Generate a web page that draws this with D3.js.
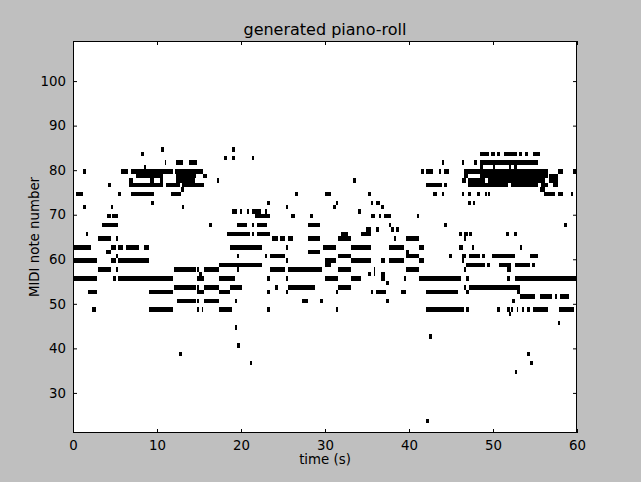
<!DOCTYPE html>
<html><head><meta charset="utf-8">
<script src="https://cdn.jsdelivr.net/npm/d3@7"></script>
<style>html,body{margin:0;padding:0;background:#bfbfbf;}svg{display:block;}</style>
</head><body>
<script>
// Notes: pitch (MIDI), start (s), end (s)
const noteP = [
74,79,71,65,62,59,55,52,48,64,64,57,57,61,60,62,62,62,62,59,59,55,55,67,69,69,71,76,74,
79,79,79,78,78,78,77,77,77,77,76,76,76,75,74,74,72,71,80,81,81,81,83,84,57,53,52,50,48,38,
55,53,52,48,48,57,56,50,
57,53,50,55,52,48,58,53,62,65,65,65,67,67,67,67,69,70,70,70,70,70,77,82,82,82,84,60,57,50,44,40,36,
72,60,60,57,55,52,48,64,64,64,53,71,62,59,55,52,69,74,57,53,50,50,64,61,67,69,
62,74,59,58,55,71,72,52,48,64,60,57,53,65,77,62,59,55,70,65,66,74,56,52,72,69,57,56,72,66,69,52,71,59,56,55,69,54,50,67,62,59,66,64,66,52,55,64,61,60,57,69,62,59,55,
79,79,79,79,76,76,74,74,81,67,52,48,42,23,60,
65,65,65,65,65,64,62,62,62,60,60,60,60,60,59,58,58,58,58,58,57,57,55,55,55,53,53,52,52,51,51,51,51,50,
48,48,48,48,48,48,48,48,48,47,45,38,36,34,
74,74,74,74,74,74,74,74,72,72,67,75,
83,83,83,83,83,83,83,81,81,81,80,80,80,80,79,79,79,78,78,78,78,77,77,77,77,76,76,76,76
];
const noteStart = [
0.36,1.2,1.2,1.5,0,0,0,1.8,2.3,3.0,5.1,3.0,5.1,3.9,5.1,4.5,5.4,6.3,8.45,4.5,5.4,4.8,5.4,3.5,4.1,4.7,4.5,4.2,5.4,
5.7,6.9,12.2,7.5,12.3,15.5,6.7,9.2,10.4,12.3,6.7,11.1,13.0,12.9,6.9,11.7,9.3,13.0,8.45,10.9,12.3,13.8,8.1,10.5,12.05,12.05,9.05,12.35,9.05,12.6,
14.8,14.8,14.8,14.8,15.3,14.8,14.95,14.8,
15.55,15.55,15.55,17.35,17.35,17.35,17.35,18.7,18.7,18.3,21.3,21.9,16.2,19.5,21.3,21.9,21.7,18.9,19.9,20.7,21.3,22.9,17.1,18.0,18.9,21.3,18.9,19.5,19.5,19.3,19.3,19.5,21.1,
23.1,22.9,23.45,23.45,23.1,23.1,23.1,23.7,24.7,25.6,24.05,25.3,25.3,25.3,25.3,25.3,25.9,26.4,25.6,25.6,27.3,29.4,28.0,28.0,28.0,28.25,
29.8,30.0,30.05,30.05,30.05,30.95,31.3,31.3,31.3,31.55,31.55,31.55,31.55,31.9,33.3,33.1,33.1,33.1,33.9,34.3,34.9,35.1,35.1,35.5,35.5,35.5,35.8,35.8,36.1,36.1,36.4,36.1,36.7,36.7,36.7,36.7,37.0,37.3,37.3,37.6,37.6,37.6,37.9,38.2,38.45,39.05,39.4,39.6,39.6,39.6,39.6,40.9,41.2,41.2,41.2,
41.4,42.05,43.6,44.2,42.0,44.2,42.8,43.9,43.9,44.2,42.0,42.0,42.35,42.0,44.75,
45.95,46.6,47.1,51.6,52.5,46.55,45.95,47.5,53.25,46.3,47.1,48.7,49.9,54.4,46.3,46.8,49.3,50.7,52.6,54.7,46.55,51.7,46.8,51.7,52.6,46.55,47.1,46.8,52.8,53.25,55.55,57.35,57.95,52.3,
46.8,50.5,51.7,52.1,52.8,53.4,54.05,54.8,57.8,51.85,57.7,54.1,54.4,52.65,
46.3,47.0,48.1,49.0,49.4,56.1,57.7,59.25,47.0,47.6,58.5,55.55,
48.5,49.8,50.5,51.3,53.1,53.85,54.8,46.3,47.7,48.5,48.5,49.95,51.85,52.45,46.55,57.7,59.5,46.55,48.5,56.7,57.2,46.3,47.0,49.4,56.7,47.0,52.1,55.7,57.2
];
const noteEnd = [
1.2,1.5,1.5,1.75,2.1,2.9,2.9,2.9,2.7,4.5,5.3,4.5,5.3,4.5,5.3,5.1,5.9,7.9,9.05,5.1,9.05,5.1,11.95,5.3,4.5,5.3,4.8,4.5,5.7,
6.6,11.9,15.5,10.7,14.7,15.9,7.2,9.6,10.7,14.5,10.7,12.7,15.6,13.2,9.6,12.9,9.6,13.2,8.7,11.1,13.1,14.8,8.4,10.8,14.7,14.7,11.95,14.7,11.95,13.0,
15.55,15.0,15.55,15.0,15.5,15.0,15.35,15.0,
17.35,17.35,17.35,19.3,18.7,18.9,22.5,20.1,22.5,21.1,21.6,23.45,16.5,20.7,21.6,23.1,23.45,19.5,20.1,21.0,22.4,23.1,17.35,18.3,19.25,21.6,19.25,19.8,19.8,19.5,19.5,19.9,21.3,
23.4,23.1,25.2,25.2,23.4,23.4,23.4,24.4,25.2,26.2,24.4,25.6,25.55,25.55,25.6,25.6,26.4,26.75,29.7,28.8,28.0,29.8,29.4,29.4,29.4,28.6,
31.3,30.75,31.3,30.7,31.55,31.3,31.55,31.55,31.55,33.1,33.1,33.1,33.1,32.7,33.65,35.5,35.5,34.3,34.25,35.5,35.5,35.5,35.5,35.7,35.7,36.0,36.0,36.0,36.5,36.4,36.7,37.3,37.0,37.2,37.2,37.2,37.9,37.6,37.6,37.8,39.4,39.4,38.2,38.4,38.8,39.65,39.65,41.2,40.05,41.2,41.2,41.2,41.8,41.8,46.2,
41.75,42.9,43.8,44.8,43.9,44.5,43.3,44.2,44.2,44.5,45.8,46.55,42.75,42.4,45.15,
46.25,47.0,47.5,51.85,52.8,46.8,46.4,47.75,53.45,46.8,48.5,49.0,52.6,55.3,46.6,49.0,49.7,52.2,54.4,54.95,46.8,52.2,47.1,52.0,60,46.8,53.2,47.1,53.2,55.05,57.0,57.6,59.1,52.6,
47.1,50.8,52.0,52.4,53.0,53.7,54.4,56.5,59.7,52.1,57.95,54.4,54.8,52.85,
46.55,47.35,48.4,49.3,49.7,57.4,58.3,59.5,47.35,47.9,58.85,56.15,
49.5,50.2,50.8,52.8,53.4,54.2,55.6,46.55,48.1,55.4,48.8,50.2,52.1,52.8,56.5,58.3,59.9,47.0,56.5,57.7,57.7,46.8,49.0,56.15,57.7,51.75,55.3,56.5,57.7
];
const xTicks = [0,10,20,30,40,50,60];
const yTicks = [30,40,50,60,70,80,90,100];
const xDomain = [0,60];
const yDomain = [21,109];

const W = 641, H = 482;
const M = {left:73, right:577, top:41, bottom:433};
const svg = d3.select("body").append("svg").attr("width",W).attr("height",H);
svg.append("rect").attr("width",W).attr("height",H).attr("fill","#bfbfbf");

const x = d3.scaleLinear().domain(xDomain).range([M.left,M.right]);
const y = d3.scaleLinear().domain(yDomain).range([M.bottom,M.top]);

svg.append("rect").attr("x",M.left).attr("y",M.top).attr("width",M.right-M.left).attr("height",M.bottom-M.top).attr("fill","#fff");

const notes = noteP.map((p,i)=>({p, s:noteStart[i], e:noteEnd[i]}));
const off = 0.18;
svg.append("g").attr("shape-rendering","crispEdges").selectAll("rect").data(notes).join("rect")
  .attr("x",d=>x(d.s)).attr("width",d=>Math.max(1,x(d.e)-x(d.s)))
  .attr("y",d=>y(d.p+1+off)).attr("height",d=>y(d.p+off)-y(d.p+1+off))
  .attr("fill","#000");

const font = "'DejaVu Sans', sans-serif";
const fs = 13.33;
// axes: ticks inward, on all sides
const axB = d3.axisBottom(x).tickValues(xTicks).tickSizeInner(-4).tickSizeOuter(0).tickPadding(8);
const axT = d3.axisTop(x).tickValues(xTicks).tickSizeInner(-4).tickSizeOuter(0).tickFormat("");
const axL = d3.axisLeft(y).tickValues(yTicks).tickSizeInner(-4).tickSizeOuter(0).tickPadding(7);
const axR = d3.axisRight(y).tickValues(yTicks).tickSizeInner(-4).tickSizeOuter(0).tickFormat("");
function style(g){
  g.attr("font-family",null).attr("font-size",null);
  g.select(".domain").remove();
  g.selectAll("line").attr("stroke","#000").attr("stroke-width",1);
  g.selectAll("text").attr("fill","#000").style("font-family",font).style("font-size",fs+"px");
}
svg.append("g").attr("transform",`translate(0,${M.bottom})`).call(axB).call(style);
svg.append("g").attr("transform",`translate(0,${M.top})`).call(axT).call(style);
svg.append("g").attr("transform",`translate(${M.left},0)`).call(axL).call(style);
svg.append("g").attr("transform",`translate(${M.right},0)`).call(axR).call(style);

svg.append("rect").attr("x",M.left+0.5).attr("y",M.top+0.5).attr("width",M.right-M.left-1).attr("height",M.bottom-M.top-1)
  .attr("fill","none").attr("stroke","#000").attr("stroke-width",1);

svg.append("text").attr("x",(M.left+M.right)/2).attr("y",35).attr("text-anchor","middle")
  .style("font-family",font).style("font-size","16px").text("generated piano-roll");
svg.append("text").attr("x",(M.left+M.right)/2).attr("y",464).attr("text-anchor","middle")
  .style("font-family",font).style("font-size",fs+"px").text("time (s)");
svg.append("text").attr("transform",`translate(39,${(M.top+M.bottom)/2}) rotate(-90)`).attr("text-anchor","middle")
  .style("font-family",font).style("font-size",fs+"px").text("MIDI note number");
</script>
</body></html>
